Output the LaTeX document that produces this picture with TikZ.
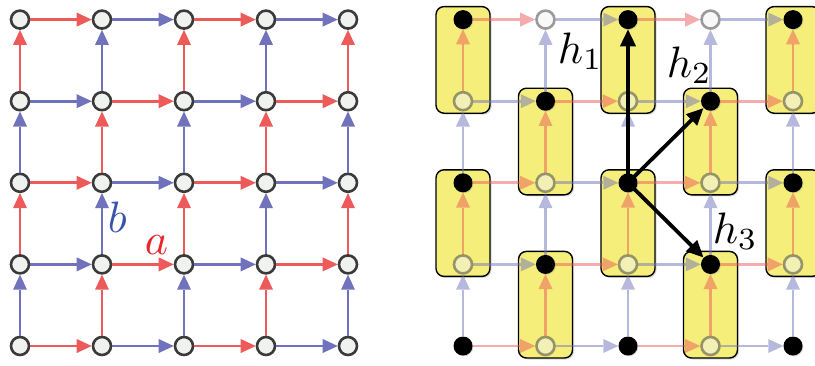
\documentclass[tikz,border=0pt]{standalone}
\usetikzlibrary{arrows.meta,shadows}
\definecolor{ered}{RGB}{236,90,90}
\definecolor{eblue}{RGB}{112,114,188}
\definecolor{ndraw}{RGB}{58,58,58}
\definecolor{nfill}{RGB}{240,242,240}
\definecolor{boxy}{RGB}{245,238,122}
\definecolor{lblue}{RGB}{58,82,172}
\definecolor{lred}{RGB}{232,38,44}
\pgfdeclarelayer{bg}
\pgfsetlayers{bg,main}
\begin{document}
\begin{tikzpicture}[x=1pt,y=-1pt,
  opennode/.style={circle,draw=ndraw,fill=nfill,line width=2.6pt,minimum size=18pt,inner sep=0pt},
  fadenode/.style={opennode,opacity=0.5},
  blacknode/.style={circle,fill=black,minimum size=19pt,inner sep=0pt,
    drop shadow={shadow xshift=0.8pt,shadow yshift=-0.8pt,opacity=0.35}},
  edge/.style={line width=2.8pt,-{Triangle[length=15pt,width=14pt,line width=0pt]}},
  fadeedge/.style={edge,opacity=0.5},
  ybox/.style={fill=boxy,draw=black,line width=1.4pt,rounded corners=8pt,
    drop shadow={shadow xshift=1.5pt,shadow yshift=-1.5pt,opacity=0.3}},
  bkarrow/.style={black,line width=3.8pt,-{Triangle[length=17pt,width=15pt]}},
  lab/.style={anchor=base west,inner sep=0pt,scale=4.4,transform shape}
]
\useasboundingbox (0,0) rectangle (815,365);
% ---------- left grid ----------
\foreach \i in {0,...,4}{\foreach \j in {0,...,4}{
  \node[opennode] (L-\i-\j) at ({20+82*\i},{346-81.6*\j}) {};
}}
\foreach \i in {0,...,3}{\foreach \j in {0,...,4}{
  \pgfmathtruncatemacro\ni{\i+1}
  \pgfmathtruncatemacro\p{mod(\i+\j,2)}
  \ifnum\p=0 \def\ec{ered}\else\def\ec{eblue}\fi
  \draw[edge,color=\ec] (L-\i-\j) -- (L-\ni-\j);
}}
\foreach \i in {0,...,4}{\foreach \j in {0,...,3}{
  \pgfmathtruncatemacro\nj{\j+1}
  \pgfmathtruncatemacro\p{mod(\i+\j,2)}
  \ifnum\p=1 \def\ec{ered}\else\def\ec{eblue}\fi
  \draw[edge,color=\ec] (L-\i-\j) -- (L-\i-\nj);
}}
\node[lab,text=lblue] (lb) at (107,232) {$b$};
\node[lab,text=lred] (la) at (144,254) {$a$};
% ---------- right grid ----------
\foreach \i in {0,...,4}{\foreach \j in {0,...,4}{
  \pgfmathtruncatemacro\p{mod(\i+\j,2)}
  \ifnum\p=0
    \node[blacknode] (R-\i-\j) at ({463+82.5*\i},{346-81.6*\j}) {};
  \else
    \node[fadenode] (R-\i-\j) at ({463+82.5*\i},{346-81.6*\j}) {};
  \fi
}}
\begin{pgfonlayer}{bg}
\foreach \i/\j in {0/4,0/2,1/3,1/1,2/4,2/2,3/3,3/1,4/4,4/2}{
  \pgfmathtruncatemacro\k{\j-1}
  \draw[ybox] ([shift={(-27pt,13pt)}]R-\i-\j.center) rectangle ([shift={(27pt,-12pt)}]R-\i-\k.center);
}
\end{pgfonlayer}
\foreach \i in {0,...,3}{\foreach \j in {0,...,4}{
  \pgfmathtruncatemacro\ni{\i+1}
  \pgfmathtruncatemacro\p{mod(\i+\j,2)}
  \ifnum\p=0 \def\ec{ered}\else\def\ec{eblue}\fi
  \draw[fadeedge,color=\ec] (R-\i-\j) -- (R-\ni-\j);
}}
\foreach \i in {0,...,4}{\foreach \j in {0,...,3}{
  \pgfmathtruncatemacro\nj{\j+1}
  \pgfmathtruncatemacro\p{mod(\i+\j,2)}
  \ifnum\p=1 \def\ec{ered}\else\def\ec{eblue}\fi
  \draw[fadeedge,color=\ec] (R-\i-\j) -- (R-\i-\nj);
}}
\draw[bkarrow] (R-2-2.center) -- (R-2-4);
\draw[bkarrow] (R-2-2.center) -- (R-3-3);
\draw[bkarrow] (R-2-2.center) -- (R-3-1);
\node[lab] (h1) at (557,63) {$h_1$};
\node[lab] (h2) at (666,77) {$h_2$};
\node[lab] (h3) at (712,243) {$h_3$};
\end{tikzpicture}
\end{document}
